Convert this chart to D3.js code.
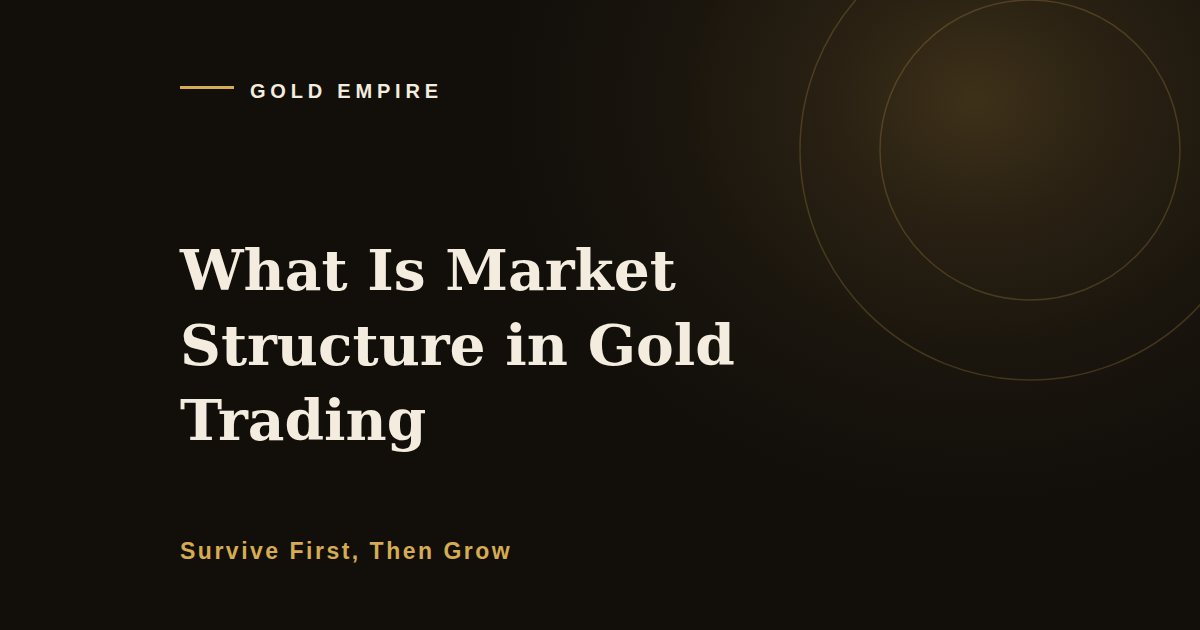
<!DOCTYPE html>
<html>
<head>
<meta charset="utf-8">
<script src="https://cdn.jsdelivr.net/npm/d3@7"></script>
<style>
  html, body { margin: 0; padding: 0; background: #120f0b; }
  svg { display: block; }
</style>
</head>
<body>
<div id="card"></div>
<script>
const eyebrow = 'GOLD EMPIRE';
const titleLines = ['What Is Market', 'Structure in Gold', 'Trading'];
const tagline = 'Survive First, Then Grow';
const ringRadii = [150, 230];

const W = 1200, H = 630;
const gold = '#d6ac52';
const cream = '#f3ecdf';

const svg = d3.select('#card')
  .append('svg')
  .attr('width', W)
  .attr('height', H);

const defs = svg.append('defs');
// elliptical glow, wider than tall
const glow = defs.append('radialGradient')
  .attr('id', 'glow')
  .attr('gradientUnits', 'userSpaceOnUse')
  .attr('cx', 0).attr('cy', 0).attr('r', 1)
  .attr('gradientTransform', 'translate(975,100) scale(470,400)');
glow.append('stop').attr('offset', '0%').attr('stop-color', '#3e3119');
glow.append('stop').attr('offset', '30%').attr('stop-color', '#2a2113');
glow.append('stop').attr('offset', '65%').attr('stop-color', '#1a150d');
glow.append('stop').attr('offset', '100%').attr('stop-color', '#120f0b');

svg.append('rect')
  .attr('width', W)
  .attr('height', H)
  .attr('fill', '#120f0b');

svg.append('rect')
  .attr('width', W)
  .attr('height', H)
  .attr('fill', 'url(#glow)');

// rings
svg.append('g')
  .selectAll('circle')
  .data(ringRadii)
  .join('circle')
  .attr('cx', 1030)
  .attr('cy', 150)
  .attr('r', d => d)
  .attr('fill', 'none')
  .attr('stroke', gold)
  .attr('stroke-opacity', 0.22)
  .attr('stroke-width', 1.5);

// eyebrow
svg.append('rect')
  .attr('x', 180).attr('y', 86)
  .attr('width', 54).attr('height', 3)
  .attr('fill', gold);

svg.append('text')
  .attr('x', 250).attr('y', 98)
  .attr('fill', cream)
  .style('font-family', '"Liberation Sans", Arial, sans-serif')
  .style('font-weight', 700)
  .style('font-size', '20px')
  .style('letter-spacing', '4.8px')
  .text(eyebrow);

// title
const title = svg.append('g');
title.selectAll('text')
  .data(titleLines)
  .join('text')
  .attr('x', 180)
  .attr('y', (d, i) => 290 + i * 75)
  .attr('fill', cream)
  .style('font-family', '"DejaVu Serif", Georgia, serif')
  .style('font-weight', 700)
  .style('font-size', '60px')
  .text(d => d);

// fit widest line to ~555px
const widest = d3.max(title.selectAll('text').nodes(), n => n.getComputedTextLength());
const fs = 60 * 555 / widest;
title.selectAll('text').style('font-size', fs + 'px');

// tagline
svg.append('text')
  .attr('x', 180).attr('y', 559)
  .attr('fill', gold)
  .style('font-family', '"Liberation Sans", Arial, sans-serif')
  .style('font-weight', 700)
  .style('font-size', '23px')
  .style('letter-spacing', '2.5px')
  .text(tagline);
</script>
</body>
</html>
